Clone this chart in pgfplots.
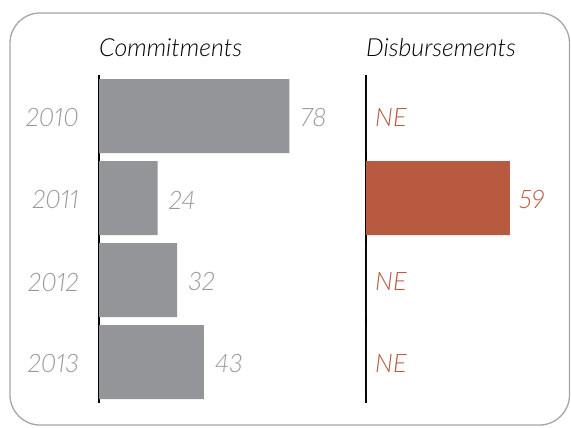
\documentclass[border=0pt]{standalone}
\usepackage{fontspec}
\setmainfont{Lato}[UprightFont=* Light, ItalicFont=* Light Italic, BoldFont=*, BoldItalicFont=* Italic, Numbers=Proportional]
\usepackage{pgfplots}
\pgfplotsset{compat=1.18}
\definecolor{barg}{HTML}{939598}
\definecolor{txtg}{HTML}{97999C}
\definecolor{brick}{HTML}{B85A40}
\begin{document}
\begin{tikzpicture}[x=1bp,y=1bp]
\useasboundingbox (0,0) rectangle (571,427);
\draw[color=black!35, line width=1.3bp, rounded corners=30bp] (10,2) rectangle (569.5,414);
\pgfplotsset{myax/.style={
  xbar, scale only axis, width=195.2bp, height=328bp,
  xmin=0, xmax=80, ymin=-0.5, ymax=3.5, y dir=reverse,
  bar width=74bp, clip=false,
  hide x axis, axis y line*=left,
  y axis line style={line width=1.4bp, black},
  major tick length=0pt,
  ytick style={draw=none},
  tick label style={inner sep=0pt},
  yticklabel style={font=\fontsize{25.5}{30}\selectfont\itshape, text=txtg, xshift=-20bp, yshift=-2bp},
  nodes near coords,
  nodes near coords style={font=\fontsize{25.5}{30}\selectfont\itshape, inner sep=0pt, anchor=west, yshift=-2bp},
  title style={at={(0,1)}, anchor=base west, yshift=13bp, inner sep=0pt, font=\fontsize{25}{30}\selectfont\itshape},
  /pgf/number format/assume math mode=true,
}}
\begin{axis}[myax, at={(99bp,24bp)}, anchor=south west,
  title={Commitments},
  ytick={0,1,2,3}, yticklabels={2010,2011,2012,2013},
  nodes near coords style={text=txtg, xshift=11bp}]
\addplot[fill=barg, draw=none] coordinates {(78,0) (24,1) (32,2) (43,3)};
\end{axis}
\begin{axis}[myax, at={(366bp,24bp)}, anchor=south west,
  title={Disbursements},
  ytick=\empty,
  point meta=explicit symbolic,
  nodes near coords style={text=brick, xshift=9bp}]
\addplot[fill=brick, draw=none] coordinates {(0,0) [NE] (59,1) [59] (0,2) [NE] (0,3) [NE]};
\end{axis}
\end{tikzpicture}
\end{document}
